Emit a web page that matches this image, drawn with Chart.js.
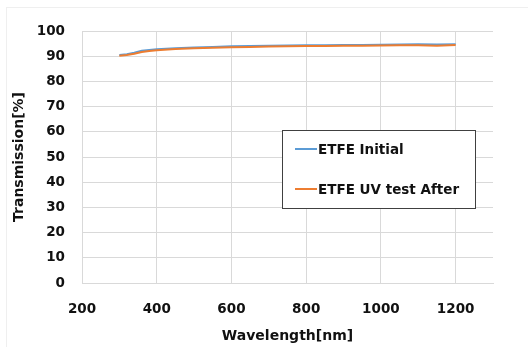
<!DOCTYPE html>
<html>
<head>
<meta charset="utf-8">
<script src="https://cdn.jsdelivr.net/npm/chart.js@4.4.1/dist/chart.umd.min.js"></script>
<style>
  html, body { margin: 0; padding: 0; background: #fff; }
  #wrap { position: relative; width: 528px; height: 347px; }
  #frame { position: absolute; left: 6px; top: 7px; right: 0; bottom: 0;
           border-left: 1px solid #efefef; border-top: 1px solid #efefef; }
  canvas { position: absolute; left: 0; top: 0; }
</style>
</head>
<body>
<div id="wrap">
  <div id="frame"></div>
  <canvas id="chart" width="528" height="347"></canvas>
</div>
<script>
// Transmission spectra
const wavelengths = [300, 320, 340, 360, 380, 400, 450, 500, 550, 600, 650, 700, 750, 800, 850, 900, 950, 1000, 1050, 1100, 1150, 1200];
const etfeInitial = [90.5, 90.8, 91.4, 92.2, 92.5, 92.8, 93.2, 93.5, 93.7, 93.9, 94.0, 94.1, 94.2, 94.3, 94.3, 94.4, 94.4, 94.5, 94.6, 94.7, 94.6, 94.7];
const etfeUvAfter = [90.2, 90.5, 91.0, 91.7, 92.1, 92.4, 92.9, 93.2, 93.4, 93.6, 93.7, 93.8, 93.9, 94.0, 94.0, 94.1, 94.1, 94.2, 94.3, 94.3, 94.1, 94.4];
const seriesNames = ['ETFE Initial', 'ETFE UV test After'];
const seriesColors = ['#5b9bd5', '#ed7d31'];
const xTickValues = [200, 400, 600, 800, 1000, 1200];

const FONT = "'DejaVu Sans', sans-serif";
const TEXT = '#111111';
const GRID = '#d9d9d9';

const toPoints = (ys) => wavelengths.map((x, i) => ({ x, y: ys[i] }));

// Boxed legend inside the plot, like the Excel original
const boxLegend = {
    id: 'boxLegend',
    afterDraw(chart) {
        const ctx = chart.ctx;
        const box = { x: 282, y: 130, w: 193, h: 78 };
        ctx.save();
        ctx.fillStyle = '#ffffff';
        ctx.fillRect(box.x, box.y, box.w, box.h);
        ctx.strokeStyle = '#404040';
        ctx.lineWidth = 1;
        ctx.strokeRect(box.x + 0.5, box.y + 0.5, box.w, box.h);
        ctx.font = `bold 13.5px ${FONT}`;
        ctx.textBaseline = 'middle';
        ctx.fillStyle = TEXT;
        const rows = [149, 189];
        chart.data.datasets.forEach((ds, i) => {
            const y = rows[i];
            ctx.strokeStyle = ds.borderColor;
            ctx.lineWidth = 2;
            ctx.beginPath();
            ctx.moveTo(295, y);
            ctx.lineTo(317, y);
            ctx.stroke();
            ctx.fillText(ds.label, 318, y + 1);
        });
        ctx.restore();
    }
};

new Chart(document.getElementById('chart'), {
    type: 'line',
    data: {
        datasets: [
            {
                label: seriesNames[0],
                data: toPoints(etfeInitial),
                borderColor: seriesColors[0],
                borderWidth: 2,
                pointRadius: 0,
                tension: 0,
                order: 1,
            },
            {
                label: seriesNames[1],
                data: toPoints(etfeUvAfter),
                borderColor: seriesColors[1],
                borderWidth: 2,
                pointRadius: 0,
                tension: 0,
                order: 0,
            }
        ]
    },
    options: {
        responsive: false,
        animation: false,
        layout: { padding: { top: 31, right: 35, bottom: 0, left: 0 } },
        plugins: {
            legend: { display: false },
            tooltip: { enabled: false },
        },
        scales: {
            x: {
                type: 'linear',
                min: 200,
                max: 1300,
                // Chart.js would swap 1200 for the 1300 end tick, so set them by hand
                afterBuildTicks: axis => { axis.ticks = xTickValues.map(v => ({ value: v })); },
                afterFit: axis => { axis.height = 64; },
                ticks: {
                    padding: 18,
                    color: TEXT,
                    font: { family: FONT, size: 13.5, weight: 'bold' },
                    callback: v => String(Math.round(v)),
                },
                grid: { color: GRID, drawTicks: false },
                border: { color: GRID },
                title: {
                    display: true,
                    text: 'Wavelength[nm]',
                    color: TEXT,
                    font: { family: FONT, size: 14, weight: 'bold' },
                    padding: { top: 0, bottom: 2 },
                }
            },
            y: {
                min: 0,
                max: 100,
                afterFit: axis => { axis.width = 82; },
                ticks: {
                    stepSize: 10,
                    padding: 17,
                    color: TEXT,
                    font: { family: FONT, size: 13.5, weight: 'bold' },
                },
                grid: { color: GRID, drawTicks: false },
                border: { color: GRID },
                title: {
                    display: true,
                    text: 'Transmission[%]',
                    color: TEXT,
                    font: { family: FONT, size: 14, weight: 'bold' },
                    padding: { top: 11, bottom: 0 },
                }
            }
        }
    },
    plugins: [boxLegend]
});
</script>
</body>
</html>
